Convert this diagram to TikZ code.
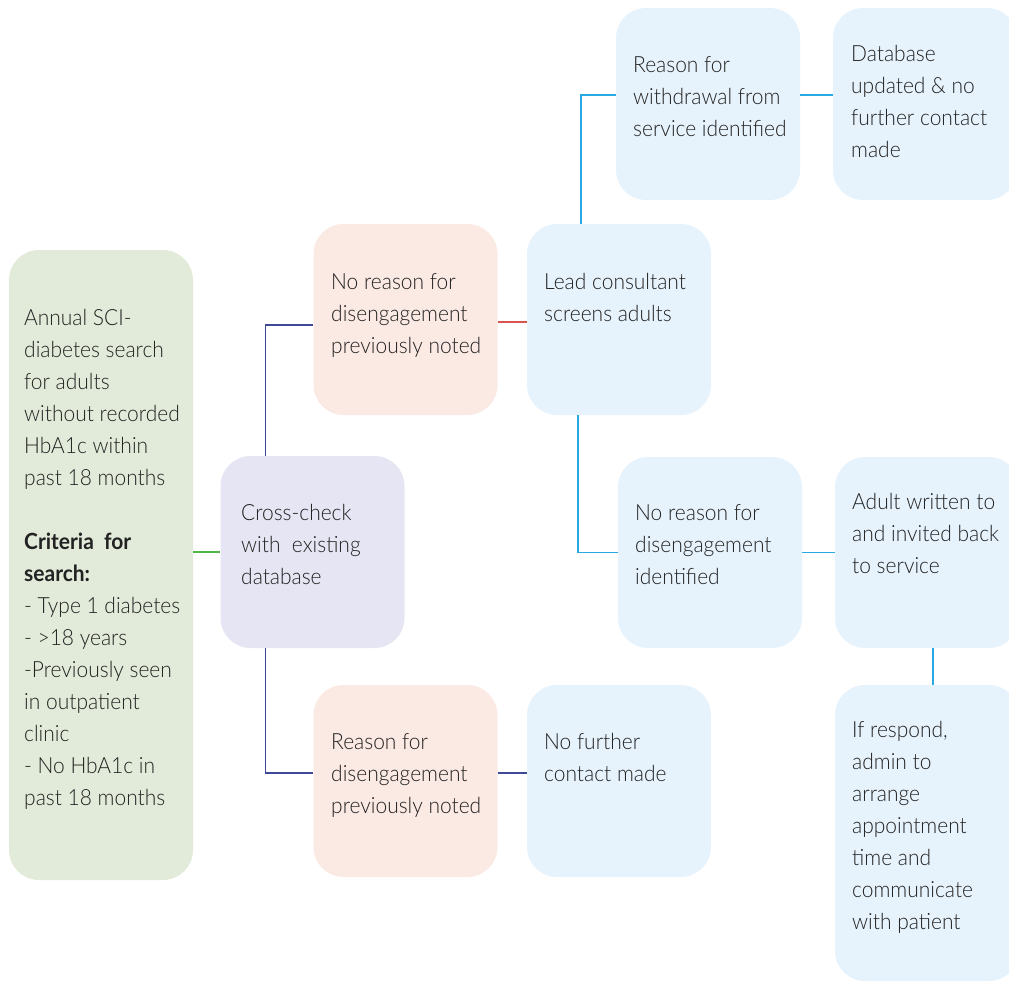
\documentclass[tikz,border=0pt]{standalone}
\usepackage{fontspec}
\setmainfont{Lato Light}[BoldFont={Lato Bold}, FakeStretch=0.94]
\definecolor{greenfill}{HTML}{E2EBD9}
\definecolor{purplefill}{HTML}{E6E5F3}
\definecolor{pinkfill}{HTML}{FBE9E3}
\definecolor{bluefill}{HTML}{E7F3FC}
\definecolor{textgray}{HTML}{222222}
\definecolor{lgreen}{HTML}{4DB848}
\definecolor{lnavy}{HTML}{3E4A97}
\definecolor{lred}{HTML}{D9534F}
\definecolor{lblue}{HTML}{29A9E1}
\begin{document}
\begin{tikzpicture}[x=1pt,y=-1pt,
  box/.style={rounded corners=30pt, minimum width=184pt, inner sep=0pt, draw=none},
  txt/.style={anchor=north west, align=left, inner sep=0pt, font=\fontsize{22.3}{32}\selectfont, text=textgray},
  ln/.style={line width=1.4pt}]
\clip (0,0) rectangle (1009,982);
% boxes
\node[box, fill=greenfill, minimum height=630pt] (green) at (101,565) {};
\node[box, fill=purplefill, minimum height=192pt] (cross) at (312.5,552) {};
\node[box, fill=pinkfill, minimum height=191pt] (pinkT) at (405.5,319.5) {};
\node[box, fill=pinkfill, minimum height=192pt] (pinkB) at (405.5,781) {};
\node[box, fill=bluefill, minimum height=191pt] (lead) at (619,319.5) {};
\node[box, fill=bluefill, minimum height=192pt] (nofurther) at (619,781) {};
\node[box, fill=bluefill, minimum height=192pt] (reason) at (708,104) {};
\node[box, fill=bluefill, minimum height=192pt] (db) at (925,104) {};
\node[box, fill=bluefill, minimum height=191pt] (noreason) at (710,552.5) {};
\node[box, fill=bluefill, minimum height=191pt] (adult) at (927,552.5) {};
\node[box, fill=bluefill, minimum height=296pt] (ifresp) at (927,833) {};
% texts
\node[txt] (greenT) at (24,309) {Annual SCI-\\diabetes search\\for adults\\without recorded\\HbA1c within\\past 18 months\\[32pt]\textbf{Criteria~~for}\\\textbf{search:}\\- Type 1 diabetes\\- >18 years\\-Previously seen\\in outpatient\\clinic\\- No HbA1c in\\past 18 months};
\node[txt] (crossT) at (241,504) {Cross-check\\with~~existing\\database};
\node[txt] (pinkTT) at (331,273) {No reason for\\disengagement\\previously noted};
\node[txt] (pinkBT) at (331,733) {Reason for\\disengagement\\previously noted};
\node[txt] (leadT) at (544,273) {Lead consultant\\screens adults};
\node[txt] (nofurtherT) at (544,733) {No further\\contact made};
\node[txt] (reasonT) at (633,56) {Reason for\\withdrawal from\\service identified};
\node[txt] (dbT) at (851,45) {Database\\updated \& no\\further contact\\made};
\node[txt] (noreasonT) at (635,504) {No reason for\\disengagement\\identified};
\node[txt] (adultT) at (852,493) {Adult written to\\and invited back\\to service};
\node[txt] (ifrespT) at (852,721) {If respond,\\admin to\\arrange\\appointment\\time and\\communicate\\with patient};
% connectors
\draw[ln, lgreen] (green.east |- cross.west) -- (cross.west);
\draw[ln, lnavy] ([xshift=45pt]cross.north west) |- ([yshift=-5.5pt]pinkT.west);
\draw[ln, lnavy] ([xshift=45pt]cross.south west) |- ([yshift=8pt]pinkB.west);
\draw[ln, lred] ([yshift=-2.5pt]pinkT.east) -- ([yshift=-2.5pt]lead.west);
\draw[ln, lnavy] ([yshift=8pt]pinkB.east) -- ([yshift=8pt]nofurther.west);
\draw[ln, lblue] ([xshift=54pt]lead.north west) |- ([yshift=9pt]reason.west);
\draw[ln, lblue] ([yshift=9pt]reason.east) -- ([yshift=9pt]db.west);
\draw[ln, lblue] ([xshift=51pt]lead.south west) |- (noreason.west);
\draw[ln, lblue] (noreason.east) -- (adult.west);
\draw[ln, lblue] ([xshift=98pt]adult.south west) -- ([xshift=98pt]ifresp.north west);
\end{tikzpicture}
\end{document}
